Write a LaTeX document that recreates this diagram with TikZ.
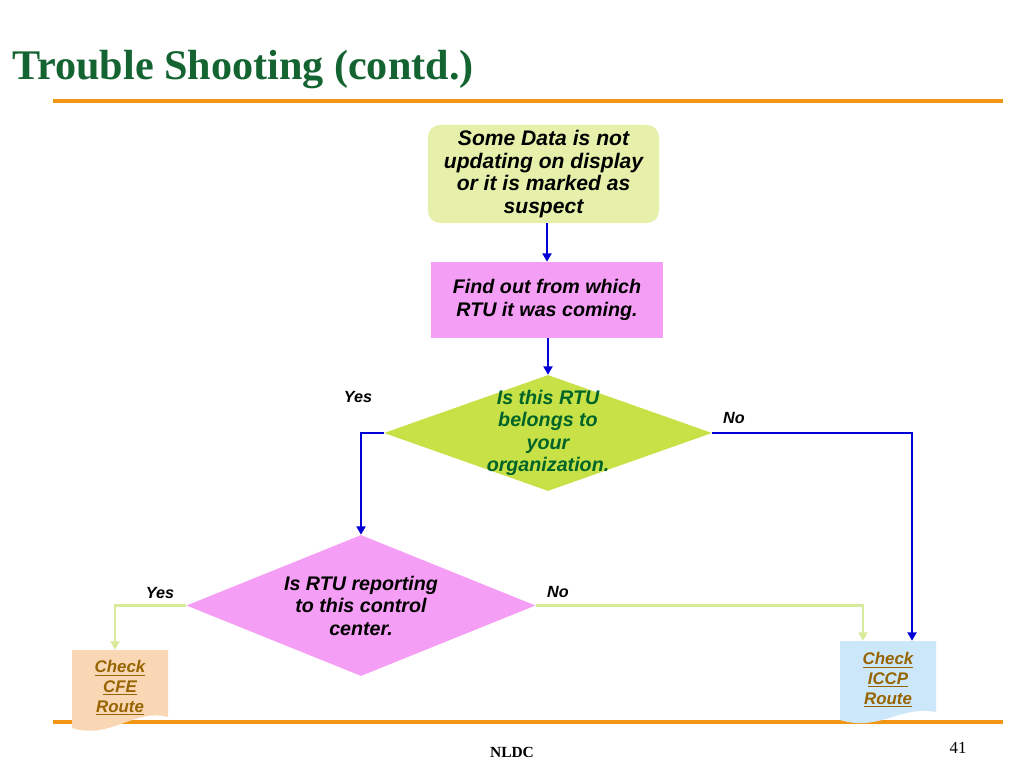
\documentclass[tikz,border=0pt]{standalone}
\usepackage{fontspec}
\usepackage{tikz}
\usetikzlibrary{shapes.geometric, arrows.meta}
\setmainfont{Liberation Serif}
\newfontfamily\arialfont{Liberation Sans}

\definecolor{titlegreen}{RGB}{20,100,50}
\definecolor{ruleorange}{RGB}{240,150,20}
\definecolor{startfill}{RGB}{230,240,170}
\definecolor{pinkfill}{RGB}{245,158,245}
\definecolor{limefill}{RGB}{200,225,70}
\definecolor{qgreen}{RGB}{0,100,40}
\definecolor{flowblue}{RGB}{0,0,215}
\definecolor{palegreen}{RGB}{215,235,155}
\definecolor{cfefill}{RGB}{250,215,180}
\definecolor{iccpfill}{RGB}{204,230,250}
\definecolor{linkbrown}{RGB}{150,100,0}

\tikzset{
    flowtext/.style={font=\arialfont\bfseries\itshape\fontsize{14}{16}\selectfont, align=center},
    startbox/.style={flowtext, fill=startfill, rounded corners=0.3cm, minimum width=5.775cm, minimum height=2.45cm, font=\arialfont\bfseries\itshape\fontsize{15}{16}\selectfont},
    stepbox/.style={flowtext, fill=pinkfill, minimum width=5.8cm, minimum height=1.9cm},
    decision/.style={diamond, inner sep=0pt},
    answer/.style={font=\arialfont\bfseries\itshape\fontsize{11.5}{13}\selectfont},
    linkbox/.style={font=\arialfont\bfseries\itshape\fontsize{12}{14.2}\selectfont, text=linkbrown, align=center, minimum width=2.4cm},
    bluearrow/.style={flowblue, line width=1.4pt, -{Triangle[width=6.5pt,length=6pt]}},
    palearrow/.style={palegreen, line width=1.5pt, -{Triangle[width=6.5pt,length=6pt]}}
}

\begin{document}
\begin{tikzpicture}[x=0.025cm, y=-0.025cm]
        \useasboundingbox (0,0) rectangle (1024,768);

        % title and rules
        \node[anchor=base west, text=titlegreen, font=\bfseries\fontsize{30}{34}\selectfont, inner sep=0pt] (title) at (12,80) {Trouble Shooting (contd.)};
        \draw[ruleorange, line width=2.2pt] (53,101) -- (1003,101);
        \draw[ruleorange, line width=2.2pt] (53,722) -- (1003,722);

        % document shapes
        \fill[cfefill] (72,650) -- (168,650) -- (168,717) .. controls (135,708) and (110,740) .. (72,728) -- cycle;
        \fill[iccpfill] (840,641) -- (936,641) -- (936,712) .. controls (900,705) and (880,732) .. (840,720) -- cycle;

        \node[startbox] (start) at (543.5,174) {Some Data is not\\updating on display\\or it is marked as\\suspect};
        \node[stepbox] (find) at (547,300) {Find out from which\\RTU it was coming.};

        \node[decision, fill=limefill, minimum width=8.2cm, minimum height=2.9cm] (q1) at (548,433) {};
        \node[flowtext, text=qgreen] (q1text) at (q1) {Is this RTU\\belongs to\\your\\organization.};

        \node[decision, fill=pinkfill, minimum width=8.725cm, minimum height=3.525cm] (q2) at (361,605.5) {};
        \node[flowtext] (q2text) at (q2) {Is RTU reporting\\to this control\\center.};

        \node[linkbox, minimum height=1.9cm] (cfe) at (120,688) {\underline{Check}\\\underline{CFE}\\\underline{Route}};
        \node[linkbox, minimum height=1.95cm] (iccp) at (888,680) {\underline{Check}\\\underline{ICCP}\\\underline{Route}};

        \draw[bluearrow] (start.south -| find.north) -- (find.north);
        \draw[bluearrow] (q1.north |- find.south) -- (q1.north);
        \draw[bluearrow] (q1.west) -| (q2.north);
        \draw[bluearrow] (q1.east) -| ([xshift=0.6cm]iccp.north);
        \draw[palearrow] (q2.west) -| ([xshift=-0.125cm]cfe.north);
        \draw[palearrow] (q2.east) -| ([xshift=-0.625cm]iccp.north);

        \node[answer] (yes1) at (358,397) {Yes};
        \node[answer] (no1) at (734,418) {No};
        \node[answer] (yes2) at (160,593) {Yes};
        \node[answer] (no2) at (558,592) {No};

        \node[font=\bfseries\fontsize{11}{13}\selectfont] (footer) at (512,752) {NLDC};
        \node[font=\fontsize{12}{14}\selectfont] (page) at (958,748) {41};

    \end{tikzpicture}
\end{document}
